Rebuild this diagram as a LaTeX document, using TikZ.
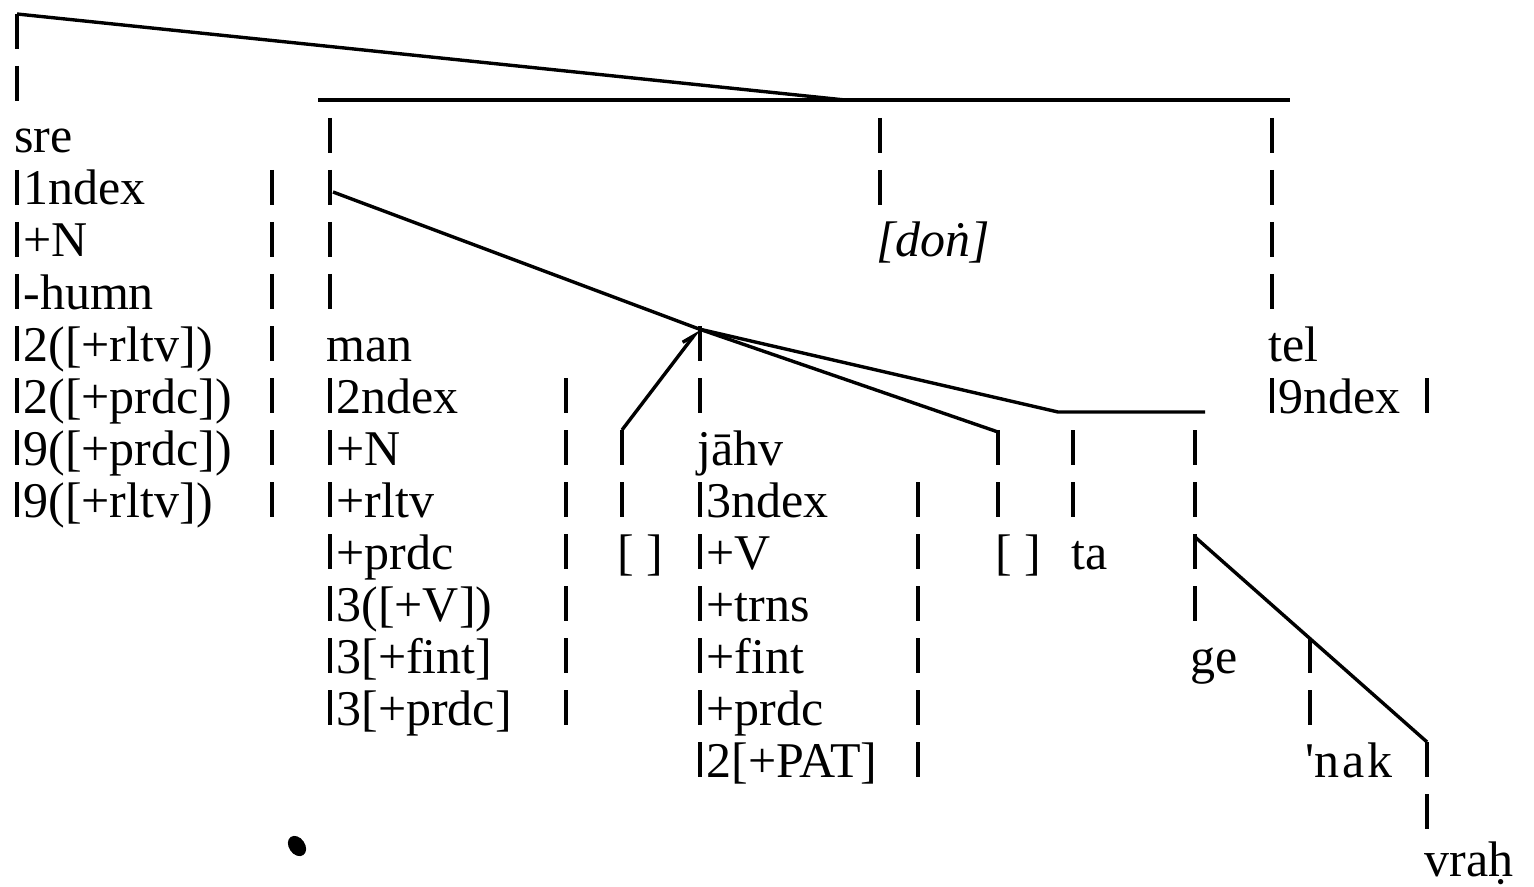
\documentclass[tikz,border=0pt]{standalone}
\usepackage{fontspec}
\setmainfont{Liberation Serif}
\usetikzlibrary{arrows.meta}
\newcommand{\ry}[1]{153+52*(#1)}

\begin{document}
\begin{tikzpicture}[x=0.5pt,y=-0.5pt,font=\fontsize{25}{26}\selectfont,
  txt/.style={anchor=base west,inner sep=0pt},
  bar/.style={line width=2pt},
  ln/.style={line width=1.7pt}]
\useasboundingbox (0,0) rectangle (1534,887);
% column marks, one per text row
\foreach \x/\a/\b in {17/-2/-1,17/1/7,272/1/7,330/0/3,330/5/11,566/5/11,
    622/6/7,700/4/5,700/7/12,918/7/12,880/0/1,998/6/7,1073/6/7,
    1195/6/9,1272/0/3,1272/5/5,1427/5/5,1310/10/11,1427/12/13}
  \foreach \r in {\a,...,\b}
    \draw[bar] (\x,{\ry{\r}-35}) -- (\x,{\ry{\r}});
% words and features
\node[txt] (sre) at (14,{\ry{0}}) {sre};
\foreach \t [count=\i] in {1ndex,+N,-humn,{2([+rltv])},{2([+prdc])},{9([+prdc])},{9([+rltv])}}
  \node[txt] (sre\i) at (23,{\ry{\i}}) {\t};
\node[txt] (man) at (326,{\ry{4}}) {man};
\foreach \t [count=\i from 5] in {2ndex,+N,+rltv,+prdc,{3([+V])},{3[+fint]},{3[+prdc]}}
  \node[txt] (man\i) at (336,{\ry{\i}}) {\t};
\node[txt] (jahv) at (697,{\ry{6}}) {jāhv};
\foreach \t [count=\i from 7] in {3ndex,+V,+trns,+fint,+prdc,{2[+PAT]}}
  \node[txt] (jahv\i) at (706,{\ry{\i}}) {\t};
\node[txt] (gap1) at (617,{\ry{8}}) {[ ]};
\node[txt] (gap2) at (995,{\ry{8}}) {[ ]};
\node[txt] (don) at (876,{\ry{2}}) {\textit{[do\.{n}]}};
\node[txt] (tel) at (1268,{\ry{4}}) {tel};
\node[txt] (tel5) at (1278,{\ry{5}}) {9ndex};
\node[txt] (ta) at (1071,{\ry{8}}) {ta};
\node[txt] (ge) at (1190,{\ry{10}}) {ge};
\node[txt] (nak) at (1305,{\ry{12}}) {\textquotesingle n\kern1.5pt a\kern1.5pt k};
\node[txt] (vrah) at (1424,{\ry{14}-5}) {vra\d{h}};
% junctions
\coordinate (tl) at (17,14);
\coordinate (hm) at (845,100);
\coordinate (hl) at (318,100);
\coordinate (hr) at (1290,100);
\coordinate (j) at (699,329);
\coordinate (mt) at (333,192);
\coordinate (g1) at (622,430);
\coordinate (g2) at (998,432);
\coordinate (tk) at (1058,412);
\coordinate (te) at (1205,412);
\coordinate (gt) at (1195,537);
\coordinate (vt) at (1427,742);
\draw[ln] (tl) -- (hm);
\draw[ln] (hl) -- (hr);
\draw[ln] (mt) -- (j);
\draw[ln,-{Straight Barb[left,length=6pt,width=5pt]}] (g1) -- (j);
\draw[ln] (j) -- (g2);
\draw[ln] (j) -- (tk) -- (te);
\draw[ln] (gt) -- (vt);
\fill[rotate around={35:(297,846)}] (297,846) ellipse [x radius=8,y radius=11];
\end{tikzpicture}
\end{document}
